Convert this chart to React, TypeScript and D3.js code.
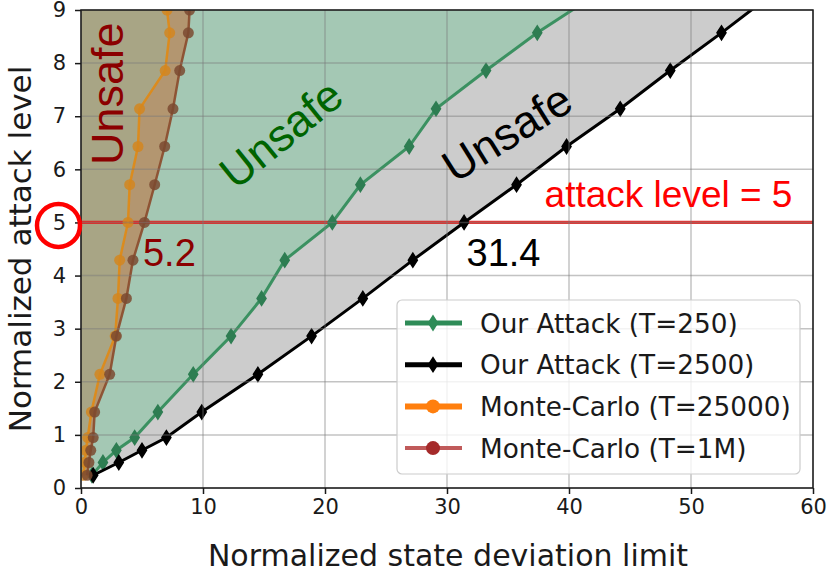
import React, { useEffect, useRef } from 'react';
import * as d3 from 'd3';

// attack levels shared by the curves (y values)
const levels = [0.24, 0.48, 0.71, 0.95, 1.43, 2.14, 2.86, 3.57, 4.29, 5.0, 5.71, 6.43, 7.14, 7.86, 8.57, 9.29];
const mcLevels = [0.24, 0.48, 0.71, 0.95, 1.43, 2.14, 2.86, 3.57, 4.29, 5.0, 5.71, 6.43, 7.14, 7.86, 8.57, 9.0];

// state deviation limit for each level (x values)
const attack250 = [0.9, 1.8, 2.9, 4.4, 6.3, 9.2, 12.3, 14.8, 16.7, 20.6, 22.9, 26.9, 29.1, 33.2, 37.4, 42.2];
const attack2500 = [1.0, 3.1, 5.0, 7.0, 9.9, 14.5, 18.9, 23.1, 27.2, 31.4, 35.7, 39.8, 44.2, 48.3, 52.5, 56.6];
const mc25000 = [0.2, 0.3, 0.4, 0.55, 0.85, 1.55, 2.8, 3.03, 3.17, 3.85, 3.99, 4.67, 4.8, 6.9, 7.27, 7.05];
const mc1M = [0.5, 0.65, 0.8, 1.0, 1.12, 2.35, 2.9, 3.72, 4.26, 5.2, 6.04, 6.86, 7.54, 8.09, 8.8, 8.9];

const xTicks = [0, 10, 20, 30, 40, 50, 60];
const yTicks = [0, 1, 2, 3, 4, 5, 6, 7, 8, 9];

const legendLabels = ['Our Attack (T=250)', 'Our Attack (T=2500)', 'Monte-Carlo (T=25000)', 'Monte-Carlo (T=1M)'];

const App = () => {
  const ref = useRef<HTMLDivElement>(null);

  useEffect(() => {
    if (!ref.current) return;
    const margin = { top: 10, right: 16, bottom: 83, left: 81 },
      W = 829, H = 571,
      width = W - margin.left - margin.right,
      height = H - margin.top - margin.bottom;

    d3.select(ref.current).selectAll('*').remove();
    const root = d3.select(ref.current).append('svg')
      .attr('width', W).attr('height', H)
      .style('position', 'absolute').style('left', 0).style('top', 0)
      .style('background', '#fff');

    root.append('defs').append('clipPath').attr('id', 'plot')
      .append('rect').attr('width', width).attr('height', height);

    const svg = root.append('g').attr('transform', `translate(${margin.left},${margin.top})`);

    const x = d3.scaleLinear().domain([0, 60]).range([0, width]);
    const y = d3.scaleLinear().domain([0, 9]).range([height, 0]);

    const pts = (xs: number[], ys: number[]) => xs.map((v, i) => ({ x: v, y: ys[i] }));
    const green = pts(attack250, levels);
    const black = pts(attack2500, levels);
    const orange = pts(mc25000, mcLevels);
    const brown = pts(mc1M, mcLevels);

    const plot = svg.append('g').attr('clip-path', 'url(#plot)');

    // shaded "unsafe" regions, painted from the widest to the narrowest
    const area = d3.area<{ x: number; y: number }>()
      .y(d => y(d.y)).x0(x(0)).x1(d => x(d.x));
    const fills: [typeof green, string][] = [
      [black, '#cccccc'], [green, '#a4c8b4'], [brown, '#b39670'], [orange, '#a8a585']
    ];
    fills.forEach(([d, c]) => {
      plot.append('path').datum(d).attr('d', area).attr('fill', c);
    });

    // grid on top of the fills
    const grid = svg.append('g');
    xTicks.forEach(t => grid.append('line')
      .attr('x1', x(t)).attr('x2', x(t)).attr('y1', 0).attr('y2', height)
      .attr('stroke', '#7a7a7a').attr('stroke-opacity', 0.45).attr('stroke-width', 1.5));
    yTicks.forEach(t => grid.append('line')
      .attr('x1', 0).attr('x2', width).attr('y1', y(t)).attr('y2', y(t))
      .attr('stroke', '#7a7a7a').attr('stroke-opacity', 0.45).attr('stroke-width', 1.5));

    // attack level = 5 line
    plot.append('line')
      .attr('x1', x(0)).attr('x2', x(60)).attr('y1', y(5)).attr('y2', y(5))
      .attr('stroke', '#e3211f').attr('stroke-opacity', 0.9).attr('stroke-width', 3.2);

    const line = d3.line<{ x: number; y: number }>().x(d => x(d.x)).y(d => y(d.y));
    const diamond = 'M0,-7L4.5,0L0,7L-4.5,0Z';

    const drawSeries = (d: typeof green, color: string, marker: 'd' | 'o', mcolor: string, lw: number, op: number) => {
      const g = plot.append('g');
      g.append('path').datum(d).attr('d', line)
        .attr('fill', 'none').attr('stroke', color).attr('stroke-width', lw).attr('stroke-opacity', op);
      if (marker === 'd') {
        g.selectAll('path.m').data(d).enter().append('path').attr('class', 'm')
          .attr('d', diamond).attr('transform', p => `translate(${x(p.x)},${y(p.y)})`)
          .attr('fill', mcolor).attr('stroke', mcolor).attr('stroke-width', 1.5);
      } else {
        g.selectAll('circle').data(d).enter().append('circle')
          .attr('cx', p => x(p.x)).attr('cy', p => y(p.y)).attr('r', 5.5)
          .attr('fill', mcolor).attr('fill-opacity', 0.85);
      }
    };
    drawSeries(green, '#2e8b57', 'd', '#2e7d52', 3, 0.9);
    drawSeries(black, '#000000', 'd', '#000000', 3, 1);
    drawSeries(orange, '#e08a14', 'o', '#d4861e', 2.5, 0.9);
    drawSeries(brown, '#8b4a2b', 'o', '#7b4a30', 2.5, 0.9);

    // frame
    svg.append('rect').attr('width', width).attr('height', height)
      .attr('fill', 'none').attr('stroke', '#1a1a1a').attr('stroke-width', 1.5);

    // axes
    const xAxis = svg.append('g').attr('transform', `translate(0,${height})`)
      .call(d3.axisBottom(x).tickValues(xTicks).tickSize(6).tickPadding(5));
    const yAxis = svg.append('g')
      .call(d3.axisLeft(y).tickValues(yTicks).tickSize(6).tickPadding(9));
    [xAxis, yAxis].forEach(a => {
      a.select('.domain').remove();
      a.selectAll('line').attr('stroke', '#1a1a1a').attr('stroke-width', 1.5);
      a.selectAll('text').attr('font-family', 'DejaVu Sans').attr('font-size', 21).attr('fill', '#1a1a1a');
    });

    svg.append('text')
      .attr('x', width / 2 + 1).attr('y', height + 78)
      .attr('text-anchor', 'middle').attr('font-family', 'DejaVu Sans').attr('font-size', 30)
      .attr('fill', '#1a1a1a').text('Normalized state deviation limit');
    svg.append('text')
      .attr('transform', `translate(${-50},${height / 2}) rotate(-90)`)
      .attr('text-anchor', 'middle').attr('font-family', 'DejaVu Sans').attr('font-size', 31)
      .attr('fill', '#1a1a1a').text('Normalized attack level');

    // red circle around the 5 tick label
    svg.append('circle')
      .attr('cx', -22.5).attr('cy', y(5) + 3).attr('r', 21.5)
      .attr('fill', 'none').attr('stroke', '#ff0000').attr('stroke-width', 4.5);

    // annotations
    const ann = (tx: number, ty: number, s: string, color: string, size: number, rot = 0, anchor = 'start') =>
      svg.append('text')
        .attr('transform', `translate(${x(tx)},${y(ty)}) rotate(${rot})`)
        .attr('text-anchor', anchor)
        .attr('font-family', 'Liberation Sans, Arial, sans-serif').attr('font-size', size)
        .attr('fill', color).text(s);
    ann(3.44, 6.08, 'Unsafe', '#8b0000', 45, -90);
    ann(17.2, 6.44, 'Unsafe', '#006400', 45, -39, 'middle');
    ann(35.6, 6.44, 'Unsafe', '#000000', 45, -32, 'middle');
    ann(38.0, 5.29, 'attack level = 5', '#ff0000', 37);
    ann(5.08, 4.18, '5.2', '#8b0000', 38);
    ann(31.6, 4.18, '31.4', '#000000', 38);

    // legend
    const lg = svg.append('g').attr('transform', `translate(${397 - margin.left},${300 - margin.top})`);
    lg.append('rect').attr('width', 403).attr('height', 174).attr('rx', 5)
      .attr('fill', '#ffffff').attr('fill-opacity', 0.8).attr('stroke', '#cccccc').attr('stroke-width', 1.2);
    const legendStyle = [
      { c: '#2e8b57', m: 'd', mc: '#2e8b57', lw: 5 },
      { c: '#000000', m: 'd', mc: '#000000', lw: 5 },
      { c: '#ff7f0e', m: 'o', mc: '#ff7f0e', lw: 6 },
      { c: '#c05a5a', m: 'o', mc: '#a52a2a', lw: 4 }
    ];
    legendLabels.forEach((label, i) => {
      const cy = 23 + i * 41.7;
      const s = legendStyle[i];
      lg.append('line').attr('x1', 8).attr('x2', 65).attr('y1', cy).attr('y2', cy)
        .attr('stroke', s.c).attr('stroke-width', s.lw);
      if (s.m === 'd') {
        lg.append('path').attr('d', diamond).attr('transform', `translate(36,${cy})`)
          .attr('fill', s.mc).attr('stroke', s.mc).attr('stroke-width', 1.5);
      } else {
        lg.append('circle').attr('cx', 36).attr('cy', cy).attr('r', 7).attr('fill', s.mc);
      }
      lg.append('text').attr('x', 83).attr('y', cy + 9.5)
        .attr('font-family', 'DejaVu Sans').attr('font-size', 26.3).attr('fill', '#1a1a1a')
        .text(label);
    });
  }, []);

  return <div ref={ref} />;
};

export default App;
